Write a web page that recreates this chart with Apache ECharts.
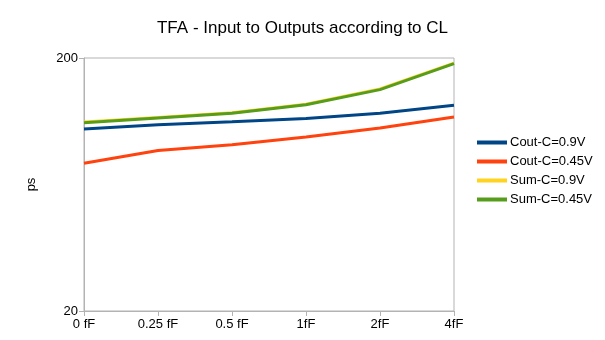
<!DOCTYPE html>
<html>
<head>
<meta charset="utf-8">
<script src="https://cdn.jsdelivr.net/npm/echarts@6/dist/echarts.min.js"></script>
<style>
html, body { margin: 0; padding: 0; background: #fff; }
#main { width: 605px; height: 340px; }
</style>
</head>
<body>
<div id="main"></div>
<script>
var categories = ['0 fF', '0.25 fF', '0.5 fF', '1fF', '2fF', '4fF'];
var coutHigh = [104.8, 109, 112, 115.4, 121, 130];
var coutLow = [76.8, 86.2, 90.8, 97.4, 105.7, 117];
var sumHigh = [111.6, 116.4, 121.6, 131.3, 151, 191];
var sumLow = [111, 115.8, 121, 130.6, 150, 190];
var yTicks = [20, 200];

var chart = echarts.init(document.getElementById('main'));

function line(name, data, color) {
    return {
        name: name,
        type: 'line',
        data: data,
        symbol: 'none',
        lineStyle: { width: 3, color: color },
        itemStyle: { color: color }
    };
}

var option = {
    textStyle: { fontFamily: 'Liberation Sans' },
    title: {
        text: 'TFA - Input to Outputs according to CL',
        left: 'center',
        top: 15,
        textStyle: { fontSize: 17, fontWeight: 'normal', color: '#000' }
    },
    legend: {
        orient: 'vertical',
        left: 472,
        top: 131,
        icon: 'rect',
        itemWidth: 30,
        itemHeight: 4,
        itemGap: 6,
        textStyle: { fontSize: 13, color: '#000', padding: [0, 0, 0, -2] },
        data: ['Cout-C=0.9V', 'Cout-C=0.45V', 'Sum-C=0.9V', 'Sum-C=0.45V']
    },
    grid: {
        left: 84,
        right: 151,
        top: 58,
        bottom: 29,
        show: true,
        borderColor: '#b3b3b3',
        borderWidth: 1
    },
    xAxis: {
        type: 'category',
        boundaryGap: false,
        data: categories,
        axisLine: { lineStyle: { color: '#b3b3b3' } },
        axisTick: { alignWithLabel: true, length: 5, lineStyle: { color: '#b3b3b3' } },
        axisLabel: { color: '#000', fontSize: 13, margin: 7 },
        splitLine: { show: false }
    },
    yAxis: {
        type: 'log',
        logBase: 10,
        min: 20,
        max: 200,
        name: 'ps',
        nameLocation: 'middle',
        nameGap: 46,
        nameTextStyle: { fontSize: 13, color: '#000' },
        axisLine: { show: true, lineStyle: { color: '#b3b3b3' } },
        axisTick: { show: true, length: 5, customValues: yTicks, lineStyle: { color: '#b3b3b3' } },
        axisLabel: { color: '#000', fontSize: 13, margin: 6, customValues: yTicks },
        splitLine: { show: false }
    },
    series: [
        line('Cout-C=0.9V', coutHigh, '#004586'),
        line('Cout-C=0.45V', coutLow, '#ff420e'),
        line('Sum-C=0.9V', sumHigh, '#ffd320'),
        line('Sum-C=0.45V', sumLow, '#579d1c')
    ]
};

chart.setOption(option);
</script>
</body>
</html>
